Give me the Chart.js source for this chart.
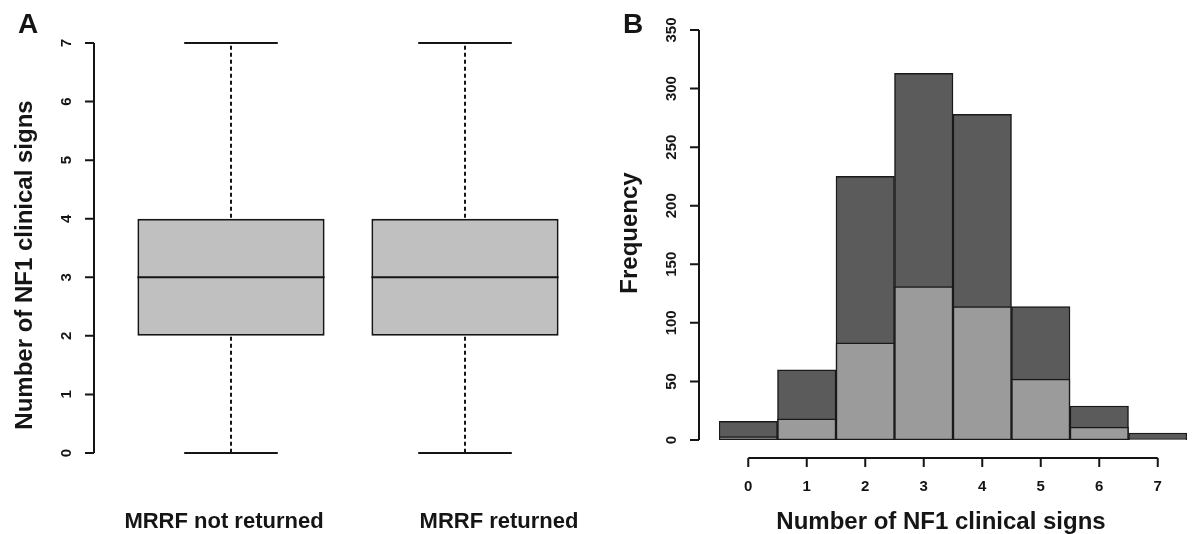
<!DOCTYPE html>
<html lang="en">
<head>
<meta charset="UTF-8">
<title>NF1 clinical signs</title>
<script src="https://cdn.jsdelivr.net/npm/chart.js@4/dist/chart.umd.min.js"></script>
<style>
    body {
        margin: 0;
        background: #fff;
        width: 1192px;
        height: 534px;
        position: relative;
        overflow: hidden;
    }
    .panel {
        position: absolute;
        top: 0;
    }
    #panelA { left: 0; }
    #panelB { left: 600px; }
</style>
</head>
<body>
<div class="panel" id="panelA"><canvas id="boxChart" width="600" height="534"></canvas></div>
<div class="panel" id="panelB"><canvas id="histChart" width="592" height="534"></canvas></div>

<script>
// panel A - box plot of number of clinical signs
const groups = ['MRRF not returned', 'MRRF returned'];
const boxMin = [0, 0];
const boxQ1 = [2, 2];
const boxMedian = [3, 3];
const boxQ3 = [4, 4];
const boxMax = [7, 7];
const boxTicks = [0, 1, 2, 3, 4, 5, 6, 7];

// panel B - histogram
const signCounts = ['0', '1', '2', '3', '4', '5', '6', '7'];
const freqAll = [16, 60, 225, 313, 278, 114, 29, 6];
const freqReturned = [3, 18, 83, 131, 114, 52, 11, 1];
const freqTicks = [0, 50, 100, 150, 200, 250, 300, 350];

const FONT = '"Liberation Sans", Arial, sans-serif';
const INK = '#151515';
// the group names do not sit exactly under the boxes in the original
const groupLabelShift = [-7, 34];

// R style axis: offset 20px from the plot region, rotated labels
function drawYAxis(chart, ticks, title, letter, titleShift) {
    const ctx = chart.ctx;
    const y = chart.scales.y;
    const ax = chart.chartArea.left - 20;
    const top = y.getPixelForValue(ticks[ticks.length - 1]);
    const bottom = y.getPixelForValue(ticks[0]);
    ctx.save();
    ctx.strokeStyle = INK;
    ctx.lineWidth = 2;
    ctx.beginPath();
    ctx.moveTo(ax, top);
    ctx.lineTo(ax, bottom);
    ticks.forEach(t => {
        const py = y.getPixelForValue(t);
        ctx.moveTo(ax, py);
        ctx.lineTo(ax - 9, py);
    });
    ctx.stroke();
    ctx.fillStyle = INK;
    ctx.textAlign = 'center';
    ctx.textBaseline = 'middle';
    ctx.font = 'bold 15px ' + FONT;
    ticks.forEach(t => {
        ctx.save();
        ctx.translate(ax - 27, y.getPixelForValue(t));
        ctx.rotate(-Math.PI / 2);
        ctx.fillText(String(t), 0, 0);
        ctx.restore();
    });
    ctx.font = 'bold 24px ' + FONT;
    ctx.save();
    ctx.translate(ax - 69, (top + bottom) / 2 + titleShift);
    ctx.rotate(-Math.PI / 2);
    ctx.fillText(title, 0, 0);
    ctx.restore();
    ctx.font = 'bold 28px ' + FONT;
    ctx.fillText(letter, ax - 66, 25);
    ctx.restore();
}

const boxPlugin = {
    id: 'boxParts',
    afterDatasetsDraw(chart) {
        const ctx = chart.ctx;
        const y = chart.scales.y;
        const meta = chart.getDatasetMeta(0);
        ctx.save();
        ctx.strokeStyle = INK;
        meta.data.forEach((bar, i) => {
            const half = bar.width / 2;
            // median
            ctx.lineWidth = 2;
            ctx.setLineDash([]);
            ctx.beginPath();
            ctx.moveTo(bar.x - half, y.getPixelForValue(boxMedian[i]));
            ctx.lineTo(bar.x + half, y.getPixelForValue(boxMedian[i]));
            // caps
            ctx.moveTo(bar.x - half / 2, y.getPixelForValue(boxMax[i]));
            ctx.lineTo(bar.x + half / 2, y.getPixelForValue(boxMax[i]));
            ctx.moveTo(bar.x - half / 2, y.getPixelForValue(boxMin[i]));
            ctx.lineTo(bar.x + half / 2, y.getPixelForValue(boxMin[i]));
            ctx.stroke();
            // whiskers
            ctx.setLineDash([4, 3]);
            ctx.beginPath();
            ctx.moveTo(bar.x, y.getPixelForValue(boxQ3[i]) - 1);
            ctx.lineTo(bar.x, y.getPixelForValue(boxMax[i]));
            ctx.moveTo(bar.x, y.getPixelForValue(boxQ1[i]) + 1);
            ctx.lineTo(bar.x, y.getPixelForValue(boxMin[i]));
            ctx.stroke();
        });
        ctx.setLineDash([]);
        // group names under each box
        ctx.fillStyle = INK;
        ctx.font = 'bold 22px ' + FONT;
        ctx.textAlign = 'center';
        ctx.textBaseline = 'middle';
        meta.data.forEach((bar, i) => {
            ctx.fillText(groups[i], bar.x + groupLabelShift[i], 522);
        });
        ctx.restore();
        drawYAxis(chart, boxTicks, 'Number of NF1 clinical signs', 'A', 17);
    }
};

const histAxisPlugin = {
    id: 'histAxes',
    afterDatasetsDraw(chart) {
        const ctx = chart.ctx;
        const x = chart.scales.x;
        const ay = chart.chartArea.bottom + 18;
        const first = x.getPixelForValue(0);
        const last = x.getPixelForValue(signCounts.length - 1);
        ctx.save();
        ctx.strokeStyle = INK;
        ctx.lineWidth = 2;
        ctx.beginPath();
        ctx.moveTo(first, ay);
        ctx.lineTo(last, ay);
        signCounts.forEach((s, i) => {
            const px = x.getPixelForValue(i);
            ctx.moveTo(px, ay);
            ctx.lineTo(px, ay + 9);
        });
        ctx.stroke();
        ctx.fillStyle = INK;
        ctx.textAlign = 'center';
        ctx.textBaseline = 'middle';
        ctx.font = 'bold 15px ' + FONT;
        signCounts.forEach((s, i) => {
            ctx.fillText(s, x.getPixelForValue(i), ay + 29);
        });
        ctx.font = 'bold 24px ' + FONT;
        ctx.fillText('Number of NF1 clinical signs', (chart.chartArea.left + chart.chartArea.right) / 2 - 12, ay + 64);
        ctx.restore();
        drawYAxis(chart, freqTicks, 'Frequency', 'B', -2);
    }
};

Chart.defaults.animation = false;
Chart.defaults.font.family = FONT;

new Chart(document.getElementById('boxChart').getContext('2d'), {
    type: 'bar',
    data: {
        labels: groups,
        datasets: [{
            data: groups.map((g, i) => [boxQ1[i], boxQ3[i]]),
            backgroundColor: '#c0c0c0',
            borderColor: INK,
            borderWidth: 2,
            borderSkipped: false,
            barPercentage: 0.8,
            categoryPercentage: 1.0
        }]
    },
    options: {
        responsive: false,
        layout: { padding: { left: 114, right: 18, top: 43, bottom: 81 } },
        plugins: { legend: { display: false }, tooltip: { enabled: false } },
        scales: {
            x: { display: false },
            y: { display: false, min: 0, max: 7 }
        }
    },
    plugins: [boxPlugin]
});

new Chart(document.getElementById('histChart').getContext('2d'), {
    type: 'bar',
    data: {
        labels: signCounts,
        datasets: [
            {
                label: 'MRRF returned',
                data: freqReturned,
                backgroundColor: '#9b9b9b',
                borderColor: '#1a1a1a',
                borderWidth: 1.5,
                borderSkipped: false,
                grouped: false,
                barPercentage: 1.0,
                categoryPercentage: 1.0
            },
            {
                label: 'All',
                data: freqAll,
                backgroundColor: '#5b5b5b',
                borderColor: '#1a1a1a',
                borderWidth: 1.5,
                borderSkipped: false,
                grouped: false,
                barPercentage: 1.0,
                categoryPercentage: 1.0
            }
        ]
    },
    options: {
        responsive: false,
        layout: { padding: { left: 119, right: 5, top: 30, bottom: 94 } },
        plugins: { legend: { display: false }, tooltip: { enabled: false } },
        scales: {
            x: { display: false },
            y: { display: false, min: 0, max: 350 }
        }
    },
    plugins: [histAxisPlugin]
});
</script>
</body>
</html>
